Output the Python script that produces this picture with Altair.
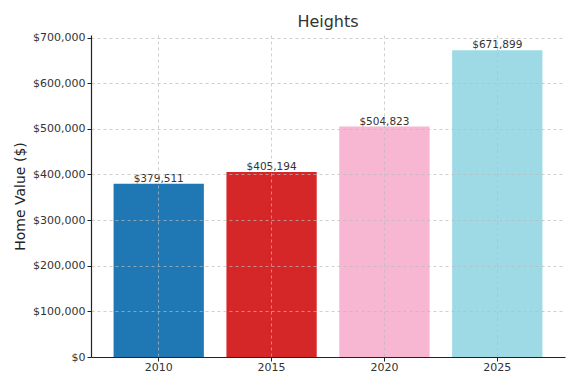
import altair as alt
import pandas as pd

years = ["2010", "2015", "2020", "2025"]
values = [379511, 405194, 504823, 671899]
colors = ["#1f77b4", "#d62728", "#f7b6d2", "#9edae5"]
labels = ["$379,511", "$405,194", "$504,823", "$671,899"]
y_ticks = [0, 100000, 200000, 300000, 400000, 500000, 600000, 700000]

df = pd.DataFrame({"year": years, "value": values, "label": labels})

FONT = "DejaVu Sans"

x = alt.X("year:N", sort=years, title=None,
          scale=alt.Scale(paddingInner=0.2, paddingOuter=0.2),
          axis=alt.Axis(labelAngle=0, labelFontSize=11, labelColor="#333333", labelFont=FONT,
                        domainColor="#222222", domainWidth=1.2, tickColor="#222222", tickSize=4,
                        grid=True, gridDash=[3, 3], gridColor="#bbbbbb", gridOpacity=0.7,
                        labelPadding=0, zindex=1))
y = alt.Y("value:Q", title="Home Value ($)",
          scale=alt.Scale(domain=[0, 705494], nice=False, zero=True),
          axis=alt.Axis(values=y_ticks, format="$,.0f", labelFontSize=11, labelColor="#333333",
                        labelFont=FONT, titleFont=FONT, titleFontSize=14, titleFontWeight="normal",
                        titleColor="#222222", titlePadding=5,
                        domainColor="#222222", domainWidth=1.2, tickColor="#222222", tickSize=4,
                        grid=True, gridDash=[3, 3], gridColor="#bbbbbb", gridOpacity=0.7,
                        labelPadding=2, zindex=1))

bars = alt.Chart(df).mark_bar().encode(
    x=x, y=y,
    color=alt.Color("year:N", scale=alt.Scale(domain=years, range=colors), legend=None),
)
text = alt.Chart(df).mark_text(dy=-5, fontSize=10.5, color="#333333", font=FONT).encode(
    x=alt.X("year:N", sort=years), y="value:Q", text="label:N"
)

chart = (bars + text).properties(
    width=474, height=322,
    title=alt.Title("Heights", font=FONT, fontSize=16, fontWeight="normal", color="#333333",
                    anchor="middle", offset=2),
    autosize=alt.AutoSizeParams(type="none"),
    padding={"left": 83, "top": 27, "right": 6, "bottom": 20},
).configure_view(stroke=None)

chart.save("out.html", embed_options={"renderer": "svg", "actions": False})
